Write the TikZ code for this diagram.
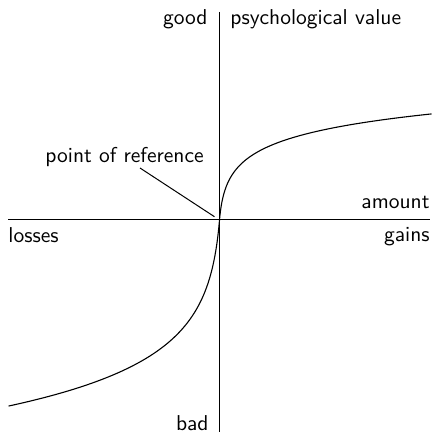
\documentclass[tikz,border=0pt]{standalone}
\usepackage{tikz}
\tikzset{
  lbl/.style={inner sep=0pt, font=\sffamily\fontsize{10.75pt}{13pt}\selectfont},
  axis/.style={line width=0.5pt},
  curve/.style={line width=0.55pt},
}
\begin{document}
\begin{tikzpicture}[x=0.5pt,y=-0.5pt]
\useasboundingbox (0,0) rectangle (433,432);
\coordinate (O) at (219.5,220);
\coordinate (xl) at (8,220);
\coordinate (xr) at (430,220);
\coordinate (yt) at (219.5,12);
\coordinate (yb) at (219.5,432);
\draw[axis] (xl) -- (xr);
\draw[axis] (yt) -- (yb);
% value curve
\draw[curve] plot[domain=4.673:0, samples=120, smooth, variable=\s]
  ({219.5+2*(exp(\s)-1)},{220-22.7*\s})
  -- plot[domain=0:3.985, samples=120, smooth, variable=\s]
  ({219.5-4*(exp(\s)-1)},{220+46.7*\s});
% labels
\node[lbl, anchor=base east] (good) at (208,25) {good};
\node[lbl, anchor=base west] (psy) at (230,25) {psychological value};
\node[lbl, anchor=base east] (amount) at (430,209) {amount};
\node[lbl, anchor=base east] (gains) at (430,242) {gains};
\node[lbl, anchor=base west] (losses) at (8,243) {losses};
\node[lbl, anchor=base east] (bad) at (209,430) {bad};
\node[lbl, anchor=base west] (ref) at (45,163) {point of reference};
\coordinate (refstart) at (140,168);
\draw[axis, shorten >=3pt] (refstart) -- (O);
\end{tikzpicture}
\end{document}
